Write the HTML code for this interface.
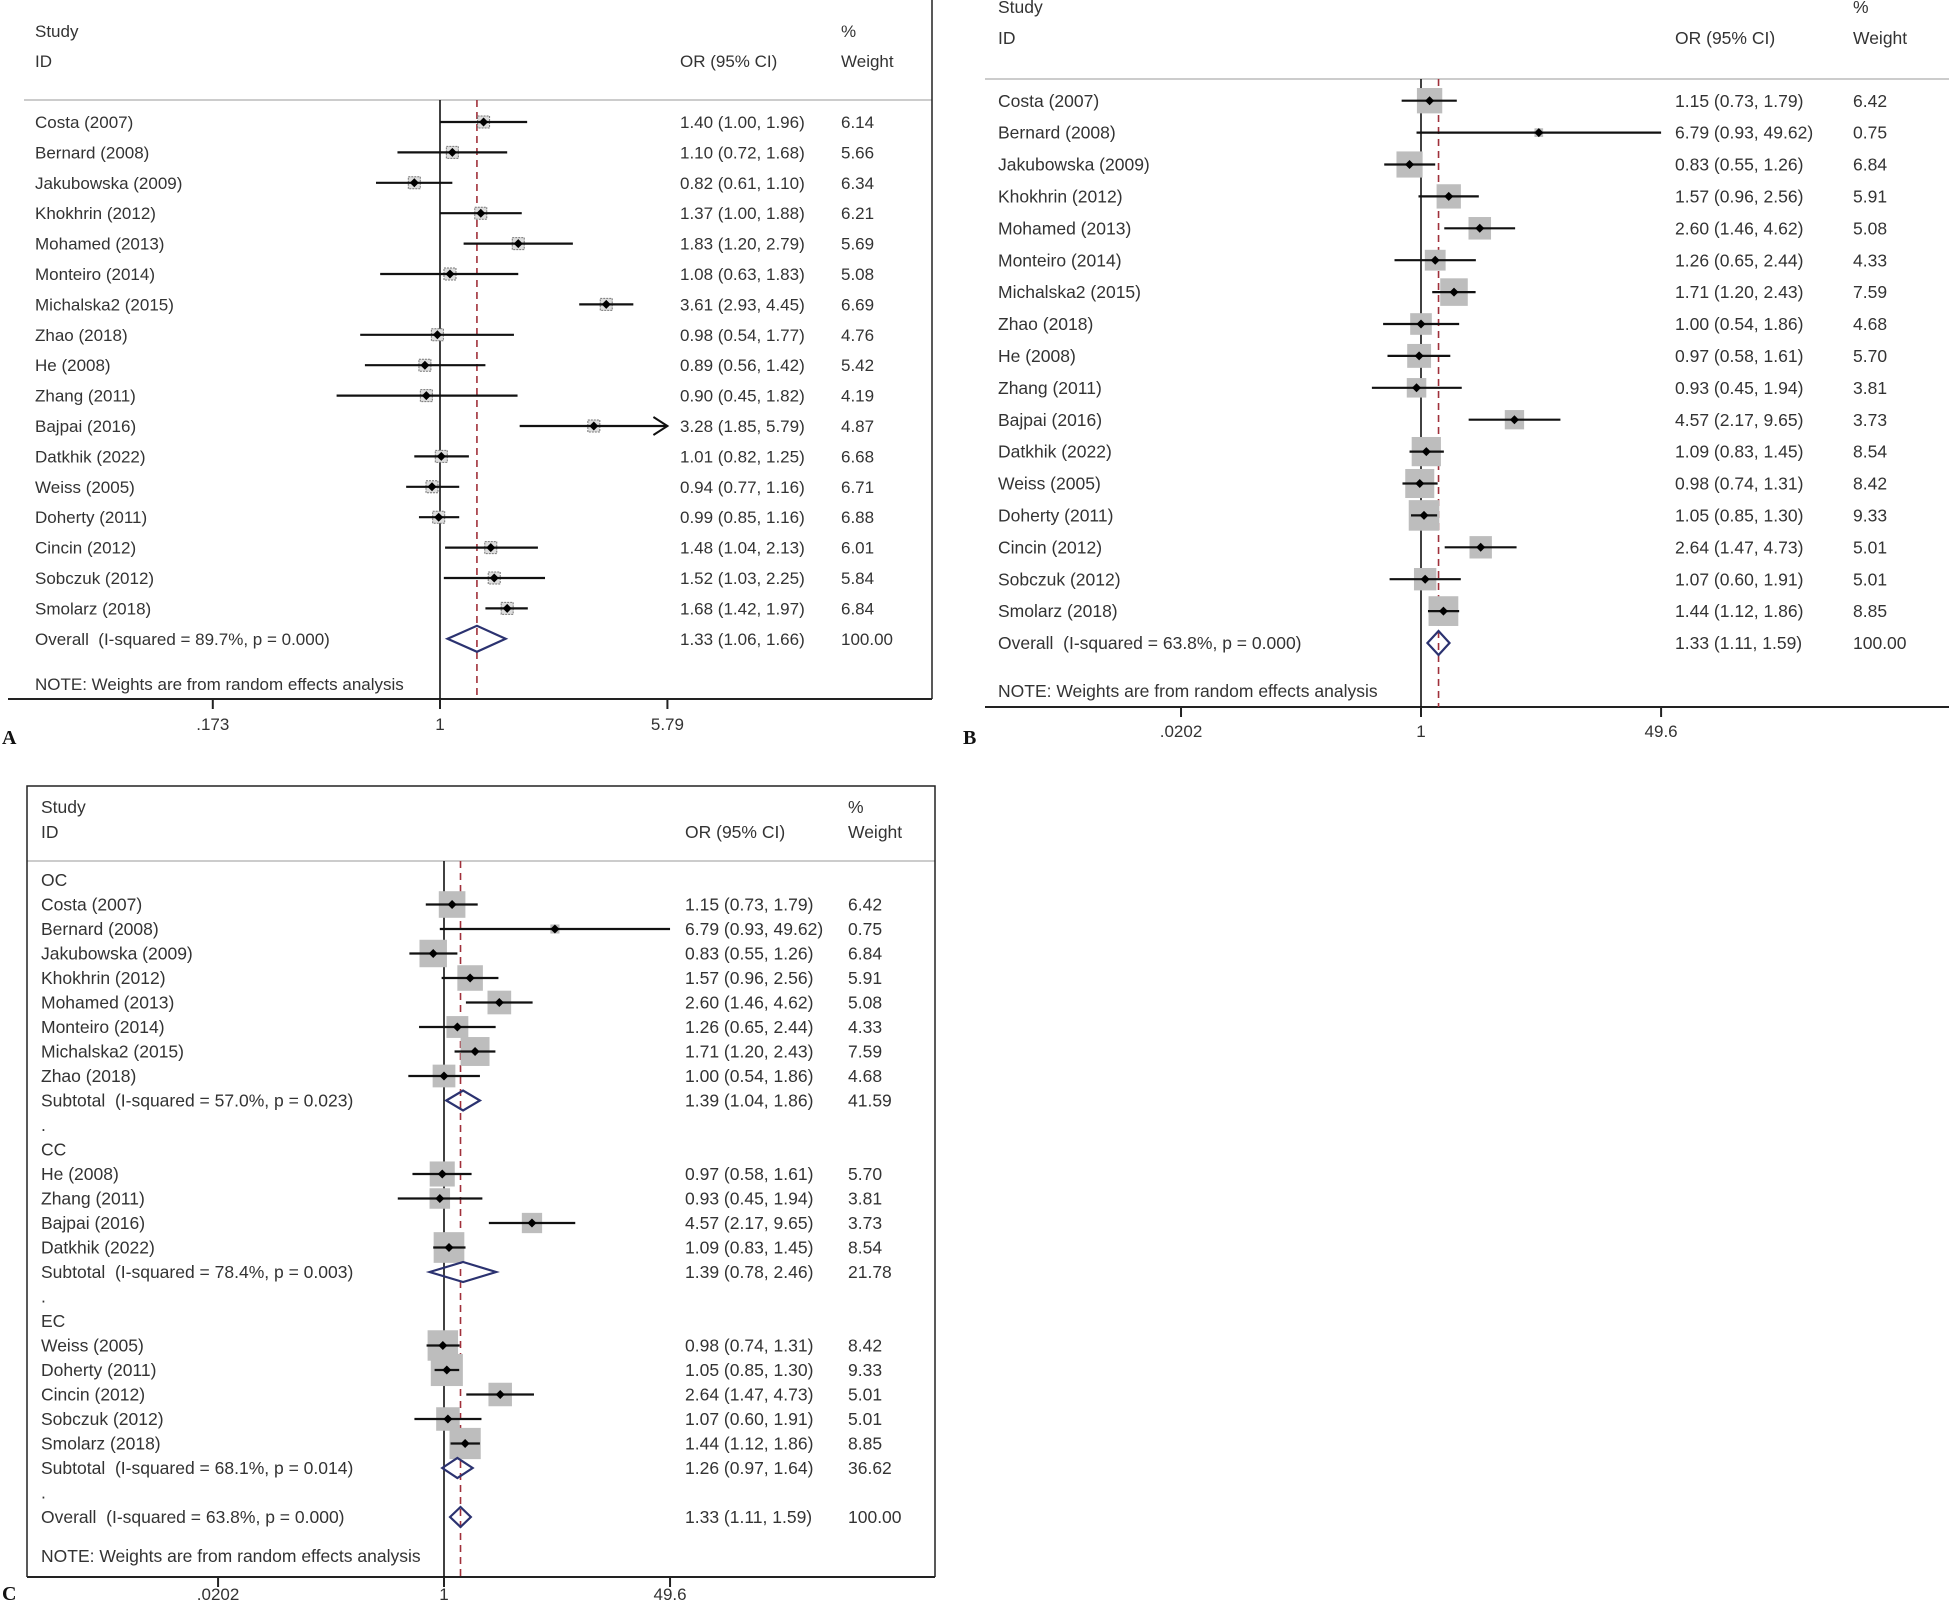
<!DOCTYPE html>
<html><head><meta charset="utf-8">
<style>
html,body{margin:0;padding:0;background:#fff;}
svg{display:block;font-family:"Liberation Sans",Arial,sans-serif;}
text{white-space:pre;}
</style></head>
<body>
<svg id="chart" width="1949" height="1604" viewBox="0 0 1949 1604" xmlns="http://www.w3.org/2000/svg"></svg>
<script>
// ---- Panel A data ----
const aLabels = ["Costa (2007)","Bernard (2008)","Jakubowska (2009)","Khokhrin (2012)","Mohamed (2013)","Monteiro (2014)","Michalska2 (2015)","Zhao (2018)","He (2008)","Zhang (2011)","Bajpai (2016)","Datkhik (2022)","Weiss (2005)","Doherty (2011)","Cincin (2012)","Sobczuk (2012)","Smolarz (2018)"];
const aOR = [1.40,1.10,0.82,1.37,1.83,1.08,3.61,0.98,0.89,0.90,3.28,1.01,0.94,0.99,1.48,1.52,1.68];
const aLo = [1.00,0.72,0.61,1.00,1.20,0.63,2.93,0.54,0.56,0.45,1.85,0.82,0.77,0.85,1.04,1.03,1.42];
const aHi = [1.96,1.68,1.10,1.88,2.79,1.83,4.45,1.77,1.42,1.82,5.79,1.25,1.16,1.16,2.13,2.25,1.97];
const aW = [6.14,5.66,6.34,6.21,5.69,5.08,6.69,4.76,5.42,4.19,4.87,6.68,6.71,6.88,6.01,5.84,6.84];
const aOverall = [1.33,1.06,1.66,100.00];
const aOverallText = "Overall  (I-squared = 89.7%, p = 0.000)";
const aTicks = [0.173,1,5.79];
const aTickLabels = [".173","1","5.79"];

// ---- Panel B / C study data ----
const bLabels = ["Costa (2007)","Bernard (2008)","Jakubowska (2009)","Khokhrin (2012)","Mohamed (2013)","Monteiro (2014)","Michalska2 (2015)","Zhao (2018)","He (2008)","Zhang (2011)","Bajpai (2016)","Datkhik (2022)","Weiss (2005)","Doherty (2011)","Cincin (2012)","Sobczuk (2012)","Smolarz (2018)"];
const bOR = [1.15,6.79,0.83,1.57,2.60,1.26,1.71,1.00,0.97,0.93,4.57,1.09,0.98,1.05,2.64,1.07,1.44];
const bLo = [0.73,0.93,0.55,0.96,1.46,0.65,1.20,0.54,0.58,0.45,2.17,0.83,0.74,0.85,1.47,0.60,1.12];
const bHi = [1.79,49.62,1.26,2.56,4.62,2.44,2.43,1.86,1.61,1.94,9.65,1.45,1.31,1.30,4.73,1.91,1.86];
const bW = [6.42,0.75,6.84,5.91,5.08,4.33,7.59,4.68,5.70,3.81,3.73,8.54,8.42,9.33,5.01,5.01,8.85];
const bOverall = [1.33,1.11,1.59,100.00];
const bOverallText = "Overall  (I-squared = 63.8%, p = 0.000)";
const bTicks = [0.0202,1,49.6];
const bTickLabels = [".0202","1","49.6"];

// ---- Panel C subgroups ----
const cGroups = ["OC","CC","EC"];
const cGroupStudies = [[0,1,2,3,4,5,6,7],[8,9,10,11],[12,13,14,15,16]];
const cSubOR = [1.39,1.39,1.26];
const cSubLo = [1.04,0.78,0.97];
const cSubHi = [1.86,2.46,1.64];
const cSubW = [41.59,21.78,36.62];
const cSubText = ["Subtotal  (I-squared = 57.0%, p = 0.023)","Subtotal  (I-squared = 78.4%, p = 0.003)","Subtotal  (I-squared = 68.1%, p = 0.014)"];

const NS = "http://www.w3.org/2000/svg";
const svg = document.getElementById("chart");
function mk(tag, attrs, parent){
  const e = document.createElementNS(NS, tag);
  for (const k in attrs) e.setAttribute(k, attrs[k]);
  (parent||svg).appendChild(e);
  return e;
}
function txt(x,y,s,size,parent,extra){
  const t = mk("text",Object.assign({x:x,y:y,"font-size":size,fill:"#333"},extra||{}),parent);
  t.textContent = s;
  return t;
}
function f2(v){return v.toFixed(2);}
function ciStr(o,l,h){return f2(o)+" ("+f2(l)+", "+f2(h)+")";}

function drawPanel(P, rows, name){
  const g = mk("g",{});
  
  
  const xs = v => P.xNull + Math.log(v)*P.ppl;
  const xmin = xs(P.ticks[0]);
  const fs = P.fs;
  const h1 = txt(P.labelX, P.studyY+fs*0.35, "Study", fs, g);
  
  
  txt(P.labelX, P.idY+fs*0.35, "ID", fs, g);
  const h2 = txt(P.ciX, P.idY+fs*0.35, "OR (95% CI)", fs, g);
  
  
  txt(P.wX, P.studyY+fs*0.35, "%", fs, g);
  const h3 = txt(P.wX, P.idY+fs*0.35, "Weight", fs, g);
  
  
  mk("line",{x1:P.hx1,x2:P.hx2,y1:P.headerY,y2:P.headerY,stroke:"#bbb","stroke-width":1.5},g);
  const ax = mk("line",{x1:P.ax1,x2:P.ax2,y1:P.axisY,y2:P.axisY,stroke:"#222","stroke-width":2},g);
  
  
  P.ticks.forEach((t,i)=>{
    mk("line",{x1:xs(t),x2:xs(t),y1:P.axisY,y2:P.axisY+10,stroke:"#222","stroke-width":2},g);
    const tl = txt(xs(t), P.tickY, P.tickLabels[i], 17, g, {"text-anchor":"middle"});
    
    
  });
  const nl = mk("line",{x1:P.xNull,x2:P.xNull,y1:P.headerY,y2:P.axisY,stroke:"#111","stroke-width":1.6},g);
  
  
  const pl = mk("line",{x1:xs(P.pooled),x2:xs(P.pooled),y1:P.headerY,y2:P.axisY,stroke:"#a0303a","stroke-width":1.6,"stroke-dasharray":"7,5"},g);
  
  
  rows.forEach((r,i)=>{
    const y = P.y0 + i*P.step;
    if (r.type==="text"){
      txt(P.labelX, y+fs*0.35, r.label, fs, g);
      return;
    }
    const lt = txt(P.labelX, y+fs*0.35, r.label, fs, g);
    
    
    const ct = txt(P.ciX, y+fs*0.35, ciStr(r.or,r.lo,r.hi), fs, g);
    
    
    const wt = txt(P.wX, y+fs*0.35, f2(r.w), fs, g);
    
    
    if (r.type==="study"){
      const cx = xs(r.or);
      if (P.smallBox){
        const b = mk("rect",{x:cx-6,y:y-6,width:12,height:12,fill:"#ddd",stroke:"#777","stroke-width":1,"stroke-dasharray":"2,1"},g);
        
        
      } else {
        const s = P.boxK*Math.sqrt(r.w);
        const b = mk("rect",{x:cx-s/2,y:y-s/2,width:s,height:s,fill:"#bdbdbd"},g);
        
        
      }
      const hiC = Math.min(r.hi, P.ticks[P.ticks.length-1]);
      const lx2 = xs(hiC);
      const ci = mk("line",{x1:Math.max(xs(r.lo),xmin),x2:lx2,y1:y,y2:y,stroke:"#111","stroke-width":2.2},g);
      
      
      if (P.arrows && r.hi >= P.ticks[P.ticks.length-1]*0.999){
        mk("polyline",{points:(lx2-14)+","+(y-9)+" "+lx2+","+y+" "+(lx2-14)+","+(y+9),fill:"none",stroke:"#111","stroke-width":2},g);
      }
      const d = 4.5;
      const pt = mk("polygon",{points:(cx-d)+","+y+" "+cx+","+(y-d)+" "+(cx+d)+","+y+" "+cx+","+(y+d),fill:"#000"},g);
      
      
    } else if (r.type==="pooled"){
      const h = P.diamondH/2;
      const dm = mk("polygon",{points:xs(r.lo)+","+y+" "+xs(r.or)+","+(y-h)+" "+xs(r.hi)+","+y+" "+xs(r.or)+","+(y+h),fill:"none",stroke:"#2b3270","stroke-width":2.2},g);
      
      
    }
  });
  const note = txt(P.labelX, P.noteY+fs*0.35, "NOTE: Weights are from random effects analysis", fs, g);
  
  
  const pl2 = mk("text",{x:P.letterX,y:P.letterY,"font-size":20,"font-weight":"bold","font-family":"Liberation Serif, serif",fill:"#111"},g);
  pl2.textContent = P.letter;
  
  
  return g;
}
function studyRows(L,O,Lo,Hi,W){
  return L.map((l,i)=>({type:"study",label:l,or:O[i],lo:Lo[i],hi:Hi[i],w:W[i]}));
}

// Panel A
const rowsA = studyRows(aLabels,aOR,aLo,aHi,aW);
rowsA.push({type:"pooled",label:aOverallText,or:aOverall[0],lo:aOverall[1],hi:aOverall[2],w:aOverall[3]});
drawPanel({xNull:440,ppl:129.5,ticks:aTicks,tickLabels:aTickLabels,pooled:aOverall[0],
  y0:122,step:30.4,fs:17,labelX:35,ciX:680,wX:841,studyY:31,idY:61,headerY:100,hx1:24,hx2:932,
  axisY:699,ax1:8,ax2:932,tickY:730,noteY:684,letter:"A",letterX:2,letterY:744,
  smallBox:true,arrows:true,boxK:10,diamondH:26}, rowsA, "panel-a");
mk("line",{x1:932,x2:932,y1:0,y2:699,stroke:"#222","stroke-width":1.5});

// Panel B
const rowsB = studyRows(bLabels,bOR,bLo,bHi,bW);
rowsB.push({type:"pooled",label:bOverallText,or:bOverall[0],lo:bOverall[1],hi:bOverall[2],w:bOverall[3]});
drawPanel({xNull:1421,ppl:61.5,ticks:bTicks,tickLabels:bTickLabels,pooled:bOverall[0],
  y0:100.7,step:31.9,fs:17.5,labelX:998,ciX:1675,wX:1853,studyY:7,idY:38,headerY:79,hx1:985,hx2:1949,
  axisY:707,ax1:985,ax2:1949,tickY:737,noteY:691,letter:"B",letterX:963,letterY:744,
  smallBox:false,arrows:false,boxK:10,diamondH:24}, rowsB, "panel-b");

// Panel C
const rowsC = [];
cGroups.forEach((gname,gi)=>{
  rowsC.push({type:"text",label:gname});
  cGroupStudies[gi].forEach(i=>rowsC.push({type:"study",label:bLabels[i],or:bOR[i],lo:bLo[i],hi:bHi[i],w:bW[i]}));
  rowsC.push({type:"pooled",label:cSubText[gi],or:cSubOR[gi],lo:cSubLo[gi],hi:cSubHi[gi],w:cSubW[gi]});
  rowsC.push({type:"text",label:"."});
});
rowsC.push({type:"pooled",label:bOverallText,or:bOverall[0],lo:bOverall[1],hi:bOverall[2],w:bOverall[3]});
drawPanel({xNull:444,ppl:57.9,ticks:bTicks,tickLabels:bTickLabels,pooled:bOverall[0],
  y0:880,step:24.5,fs:17.5,labelX:41,ciX:685,wX:848,studyY:807,idY:832,headerY:861,hx1:27,hx2:935,
  axisY:1577,ax1:27,ax2:935,tickY:1600,noteY:1556,letter:"C",letterX:2,letterY:1600,
  smallBox:false,arrows:false,boxK:10.5,diamondH:20}, rowsC, "panel-c");
mk("polyline",{points:"27,1577 27,786 935,786 935,1577",fill:"none",stroke:"#222","stroke-width":1.5});
</script>
</body></html>
